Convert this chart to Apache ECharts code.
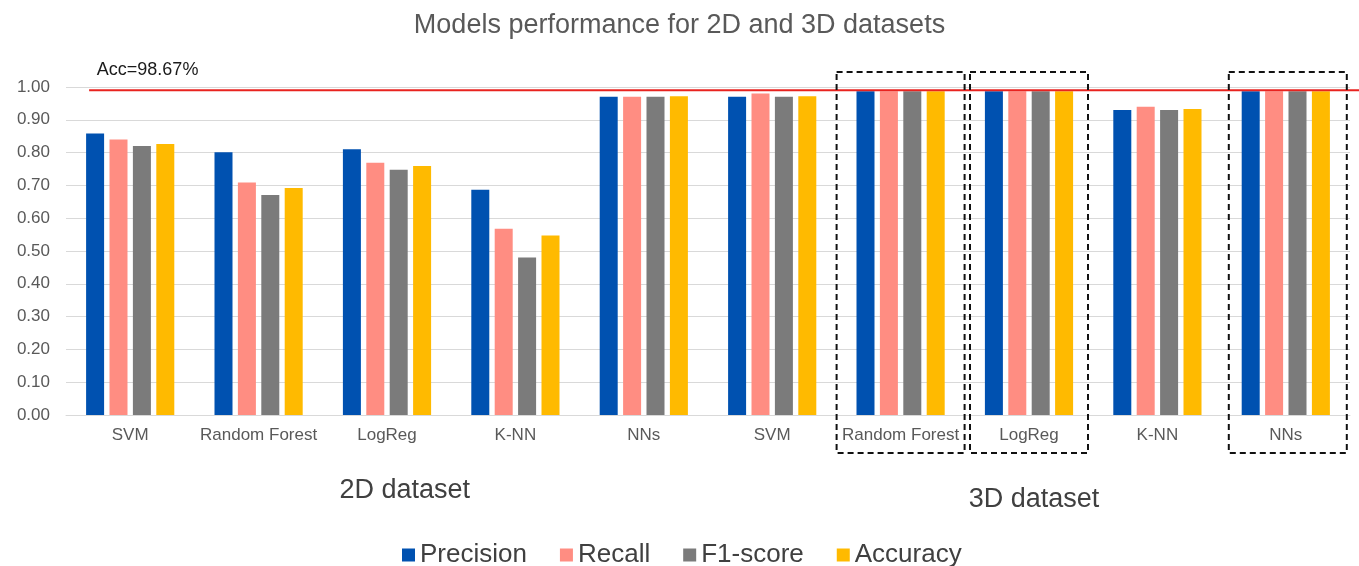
<!DOCTYPE html>
<html>
<head>
<meta charset="utf-8">
<title>Models performance for 2D and 3D datasets</title>
<script src="https://cdn.jsdelivr.net/npm/echarts@6/dist/echarts.min.js"></script>
<style>
  html, body { margin: 0; padding: 0; background: #ffffff; }
  #chart { width: 1359px; height: 566px; }
</style>
</head>
<body>
<div id="chart"></div>
<script>
// Model names along the x axis (first five: 2D dataset, last five: 3D dataset)
const categories = ['SVM', 'Random Forest', 'LogReg', 'K-NN', 'NNs',
                    'SVM', 'Random Forest', 'LogReg', 'K-NN', 'NNs'];

// Metric values per model
const precision = [0.858, 0.801, 0.810, 0.687, 0.970, 0.970, 0.987, 0.987, 0.930, 0.987];
const recall    = [0.840, 0.709, 0.769, 0.568, 0.970, 0.980, 0.987, 0.987, 0.940, 0.987];
const f1score   = [0.820, 0.671, 0.748, 0.480, 0.970, 0.970, 0.987, 0.987, 0.930, 0.987];
const accuracy  = [0.826, 0.692, 0.759, 0.547, 0.972, 0.972, 0.9867, 0.9867, 0.933, 0.9867];

// Best accuracy reference line
const bestAcc = 0.9867;
const bestAccLabel = 'Acc=98.67%';

// Models highlighted with dashed boxes (category indices)
const highlighted = [6, 7, 9];

// Group captions under the axis
const groupLabels = ['2D dataset', '3D dataset'];

const FONT = "'Liberation Sans', Arial, sans-serif";
const colors = ['#0051B0', '#FF8D82', '#7B7B7B', '#FFBA00'];

const chart = echarts.init(document.getElementById('chart'), null, { renderer: 'canvas' });

const seriesDefs = [
  ['Precision', precision],
  ['Recall', recall],
  ['F1-score', f1score],
  ['Accuracy', accuracy]
];

chart.setOption({
  animation: false,
  backgroundColor: '#ffffff',
  color: colors,
  textStyle: { fontFamily: FONT },
  title: {
    text: 'Models performance for 2D and 3D datasets',
    left: 'center',
    top: 7,
    textStyle: { fontFamily: FONT, fontSize: 27, fontWeight: 'normal', color: '#595959' }
  },
  legend: {
    left: 397,
    top: 537,
    itemWidth: 13,
    itemHeight: 13,
    itemGap: 33,
    icon: 'rect',
    textStyle: { fontFamily: FONT, fontSize: 26, color: '#404040' },
    data: seriesDefs.map(d => d[0])
  },
  grid: { left: 66, right: 9, top: 87, bottom: 151, containLabel: false },
  xAxis: {
    type: 'category',
    data: categories,
    axisTick: { show: false },
    axisLine: { show: true, lineStyle: { color: '#D9D9D9', width: 1 } },
    axisLabel: { interval: 0, margin: 12, fontFamily: FONT, fontSize: 17, color: '#595959' }
  },
  yAxis: {
    type: 'value',
    min: 0,
    max: 1,
    interval: 0.1,
    axisLine: { show: false },
    axisTick: { show: false },
    axisLabel: {
      margin: 16,
      fontFamily: FONT,
      fontSize: 17,
      color: '#595959',
      formatter: v => v.toFixed(2)
    },
    splitLine: { lineStyle: { color: '#D9D9D9', width: 1 } }
  },
  series: seriesDefs.map(([name, values]) => ({
    name: name,
    type: 'bar',
    data: values,
    barWidth: 18,
    barGap: '30%'
  }))
});

// Reference line, annotation, highlight boxes and group captions,
// positioned through the chart's own axis scales.
function drawOverlay() {
  const yAcc = chart.convertToPixel({ yAxisIndex: 0 }, bestAcc);
  const yTop = chart.convertToPixel({ yAxisIndex: 0 }, 1);
  const yZero = chart.convertToPixel({ yAxisIndex: 0 }, 0);
  const xFirst = chart.convertToPixel({ xAxisIndex: 0 }, 0);
  const step = chart.convertToPixel({ xAxisIndex: 0 }, 1) - xFirst;

  const graphics = [];

  graphics.push({
    type: 'line',
    z: 100,
    shape: { x1: xFirst - step * 0.32, y1: yAcc - 1, x2: 1359, y2: yAcc - 1 },
    style: { stroke: '#E8231F', lineWidth: 2 }
  });

  graphics.push({
    type: 'text',
    z: 100,
    x: xFirst - step * 0.26,
    y: yAcc - 21,
    style: {
      text: bestAccLabel,
      font: '18px ' + FONT,
      fill: '#1a1a1a',
      textAlign: 'left',
      textVerticalAlign: 'middle'
    }
  });

  const halfWidths = { 6: [64, 64], 7: [59, 59], 9: [57, 61] };
  highlighted.forEach(idx => {
    const cx = chart.convertToPixel({ xAxisIndex: 0 }, idx);
    const hw = halfWidths[idx] || [step / 2, step / 2];
    graphics.push({
      type: 'rect',
      z: 100,
      shape: {
        x: cx - hw[0],
        y: yTop - 15,
        width: hw[0] + hw[1],
        height: (yZero + 38) - (yTop - 15)
      },
      style: { fill: 'none', stroke: '#111111', lineWidth: 2, lineDash: [6, 4] }
    });
  });

  graphics.push({
    type: 'text',
    x: xFirst + step * 1.63,
    y: yZero + 76,
    style: {
      text: groupLabels[0],
      font: '27px ' + FONT,
      fill: '#404040',
      textAlign: 'left',
      textVerticalAlign: 'middle'
    }
  });
  graphics.push({
    type: 'text',
    x: xFirst + step * 6.53,
    y: yZero + 85,
    style: {
      text: groupLabels[1],
      font: '27px ' + FONT,
      fill: '#404040',
      textAlign: 'left',
      textVerticalAlign: 'middle'
    }
  });

  chart.setOption({ graphic: graphics });
}

drawOverlay();
</script>
</body>
</html>
